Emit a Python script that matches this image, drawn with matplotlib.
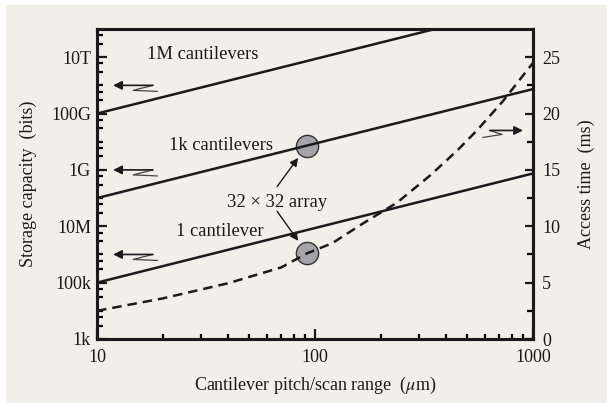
import matplotlib
matplotlib.use('Agg')
import matplotlib.pyplot as plt
import matplotlib.transforms as mtrans
from matplotlib.patches import Rectangle
from matplotlib.ticker import FixedLocator, FixedFormatter, NullFormatter

plt.rcParams['font.family'] = ['Liberation Serif', 'DejaVu Serif']
plt.rcParams['mathtext.fontset'] = 'stix'

# data
line_pitch = [10, 1000]
cap_1 = [1e5, 7.5e8]
cap_1k = [1e8, 7.4e11]
cap_1m = [1e11, 7.4e14]

pitch = [10, 20, 40, 70, 92, 120, 166, 238, 337, 448, 553, 728, 845, 1000]
access = [2.5, 3.6, 4.95, 6.35, 7.6, 8.5, 10.25, 12.1, 14.5, 16.7, 18.5, 21.1, 22.7, 24.5]

array_pitch = 92
array_cap = 7.3e9
array_ms = 7.6

cap_ticks = [1e3, 1e5, 1e7, 1e9, 1e11, 1e13]
cap_labels = ['1k', '100k', '10M', '1G', '100G', '10T']
ms_ticks = [0, 5, 10, 15, 20, 25]
x_ticks = [10, 100, 1000]
x_labels = ['10', '100', '1000']

bg = '#f2efe9'
ink = '#1a1a1a'

fig = plt.figure(figsize=(6.07, 4.03), dpi=100, facecolor='white')
fig.patches.append(Rectangle((6 / 607, 0), 1, 1 - 5 / 403, transform=fig.transFigure,
                             facecolor=bg, edgecolor='none', zorder=-10))
ax = fig.add_axes([97 / 607, 1 - 339 / 403, 436 / 607, 310 / 403])
ax.set_facecolor(bg)
ax.set_xscale('log')
ax.set_yscale('log')
ax.set_xlim(10, 1000)
ax.set_ylim(1e3, 1e14)

ax.plot(line_pitch, cap_1, color=ink, lw=1.8, zorder=3)
ax.plot(line_pitch, cap_1k, color=ink, lw=1.8, zorder=3)
ax.plot(line_pitch, cap_1m, color=ink, lw=1.8, zorder=3)
ax.plot([array_pitch], [array_cap], 'o', ms=16, mfc='#a3a3a8', mec='#333333', mew=1, zorder=2)

ax2 = ax.twinx()
ax2.set_ylim(0, 27.5)
ax2.plot(pitch, access, color=ink, lw=1.8, ls=(0, (3.8, 2.4)), zorder=3)
ax2.plot([array_pitch], [array_ms], 'o', ms=16, mfc='#a3a3a8', mec='#333333', mew=1, zorder=2)

# ticks
ax.yaxis.set_major_locator(FixedLocator(cap_ticks))
ax.yaxis.set_major_formatter(FixedFormatter(cap_labels))
minor = []
for e in range(3, 14):
    if e % 2 == 0:
        minor.append(10.0 ** e)
    minor += [3 * 10.0 ** e, 6 * 10.0 ** e]
ax.yaxis.set_minor_locator(FixedLocator(minor))
ax.yaxis.set_minor_formatter(NullFormatter())
ax.xaxis.set_major_locator(FixedLocator(x_ticks))
ax.xaxis.set_major_formatter(FixedFormatter(x_labels))
ax.xaxis.set_minor_locator(FixedLocator([m * d for d in (10, 100) for m in range(2, 10)]))
ax.xaxis.set_minor_formatter(NullFormatter())
ax2.yaxis.set_major_locator(FixedLocator(ms_ticks))
ax2.yaxis.set_minor_locator(FixedLocator([2.5, 7.5, 12.5, 17.5, 22.5]))

ax.tick_params(axis='y', which='major', direction='in', length=7.5, width=1.6, pad=4.3,
               labelsize=13, colors=ink, right=False)
ax.tick_params(axis='y', which='minor', direction='in', length=4.5, width=1.6, right=False)
ax.tick_params(axis='x', which='major', direction='in', length=7, width=1.6, pad=7,
               labelsize=13, colors=ink, top=False)
ax.tick_params(axis='x', which='minor', direction='in', length=3.8, width=1.6, top=False)
ax2.tick_params(axis='y', which='major', direction='in', length=6, width=1.6, pad=6.5,
                labelsize=13, colors=ink)
ax2.tick_params(axis='y', which='minor', direction='in', length=4, width=1.6)

for a in (ax, ax2):
    for s in a.spines.values():
        s.set_linewidth(2.2)
        s.set_color(ink)

ax.set_ylabel('Storage capacity  (bits)', fontsize=13, color=ink)
ax.yaxis.set_label_coords(-0.138, 0.5)
ax2.set_ylabel('Access time  (ms)', fontsize=13, color=ink)
ax2.yaxis.set_label_coords(1.103, 0.5)
ax.set_xlabel(r'Cantilever pitch/scan range  ($\mu$m)', fontsize=13, color=ink)
ax.xaxis.set_label_coords(0.5, -0.116)

# curve labels
ax.text(30.6, 1.2e13, '1M cantilevers', fontsize=13.4, ha='center', va='center', color=ink)
ax.text(37.1, 7.6e9, '1k cantilevers', fontsize=13.4, ha='center', va='center', color=ink)
ax.text(36.6, 6.3e6, '1 cantilever', fontsize=13.4, ha='center', va='center', color=ink)
ax.text(67, 7.2e7, '32 × 32 array', fontsize=13.4, ha='center', va='center', color=ink)

aprops = dict(arrowstyle='-|>', color=ink, lw=1.0, mutation_scale=12,
              shrinkA=0, shrinkB=11)
ax.annotate('', xy=(array_pitch, array_cap), xytext=(-30, -41),
            textcoords='offset pixels', arrowprops=aprops)
ax2.annotate('', xy=(array_pitch, array_ms), xytext=(-30, 42),
             textcoords='offset pixels', arrowprops=aprops)

# axis pointers
blend = mtrans.blended_transform_factory(ax.transAxes, ax.transData)
for yv in (1e12, 1e9, 1e6):
    ax.annotate('', xy=(0.037, yv), xytext=(0.128, yv), xycoords=blend, textcoords=blend,
                arrowprops=dict(arrowstyle='-|>', color=ink, lw=1.2, mutation_scale=13,
                                shrinkA=0, shrinkB=0))
    ax.plot([0.128, 0.083, 0.138], [yv, yv * 0.665, yv * 0.612], transform=blend,
            color='#444444', lw=0.9)

blend2 = mtrans.blended_transform_factory(ax2.transAxes, ax2.transData)
ax2.annotate('', xy=(0.977, 18.5), xytext=(0.901, 18.5), xycoords=blend2, textcoords=blend2,
             arrowprops=dict(arrowstyle='-|>', color=ink, lw=1.2, mutation_scale=13,
                             shrinkA=0, shrinkB=0))
ax2.plot([0.901, 0.929, 0.885], [18.5, 18.15, 17.88], transform=blend2,
         color='#444444', lw=0.9)

fig.savefig('out.png', dpi=100, facecolor='white')
